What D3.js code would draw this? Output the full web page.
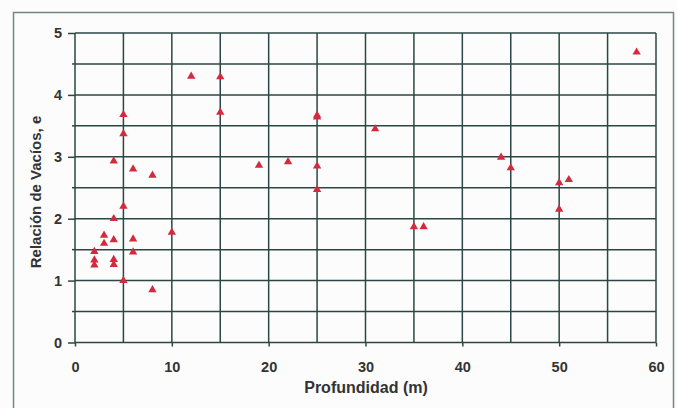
<!DOCTYPE html>
<html>
<head>
<meta charset="utf-8">
<script src="https://cdn.jsdelivr.net/npm/d3@7"></script>
<style>
  body { margin: 0; background: #fbfcfb; }
  svg { display: block; font-family: "Liberation Sans", Arial, sans-serif; }
</style>
</head>
<body>
<svg width="677" height="408"></svg>
<script>
// Profundidad (m)
const depth = [2, 2, 2, 3, 3, 4, 4, 4, 4, 5, 5, 6, 6, 8, 10, 5, 5, 4, 6, 8,
  12, 15, 15, 25, 25, 19, 22, 25, 25, 31, 44, 45, 35, 36, 58, 50, 51, 50];
// Relación de vacíos, e
const voids = [1.47, 1.33, 1.25, 1.73, 1.60, 2.0, 1.66, 1.34, 1.26, 2.2, 1.0, 1.67, 1.46, 0.85, 1.78, 3.68, 3.37, 2.93, 2.8, 2.7,
  4.3, 4.29, 3.72, 3.67, 3.64, 2.86, 2.92, 2.85, 2.47, 3.45, 2.99, 2.82, 1.87, 1.87, 4.69, 2.58, 2.63, 2.15];
const xTicks = [0, 10, 20, 30, 40, 50, 60];
const yTicks = [0, 1, 2, 3, 4, 5];

const svg = d3.select("svg");
const gridColor = "#2c4743";
const textColor = "#333";

// outer frame
svg.append("rect")
  .attr("x", 13.5).attr("y", 12.5)
  .attr("width", 660).attr("height", 420)
  .attr("fill", "none")
  .attr("stroke", "#6f8883")
  .attr("stroke-width", 1.5);

const x = d3.scaleLinear().domain([0, 60]).range([75, 656]);
const y = d3.scaleLinear().domain([0, 5]).range([342.5, 33]);

const grid = svg.append("g")
  .attr("stroke", gridColor)
  .attr("stroke-width", 1.5);

grid.selectAll(".vx")
  .data(d3.range(0, 61, 5))
  .enter().append("line")
  .attr("x1", d => x(d)).attr("x2", d => x(d))
  .attr("y1", y(0)).attr("y2", y(5));

grid.selectAll(".hy")
  .data(d3.range(0, 5.01, 0.5))
  .enter().append("line")
  .attr("y1", d => y(d)).attr("y2", d => y(d))
  .attr("x1", x(0)).attr("x2", x(60));

// y axis ticks
const yAxis = d3.axisLeft(y).tickValues(yTicks).tickSize(7).tickPadding(6).tickFormat(d3.format("d"));
const ya = svg.append("g").attr("transform", `translate(${x(0)},0)`).call(yAxis);
ya.select(".domain").remove();
ya.selectAll(".tick line").attr("stroke", gridColor).attr("stroke-width", 1.5);
ya.selectAll("text").attr("fill", textColor).style("font-size", "14.5px").style("font-weight", "bold");

svg.append("g").selectAll("line")
  .data(d3.range(0.5, 5, 1))
  .enter().append("line")
  .attr("x1", x(0) - 3).attr("x2", x(0))
  .attr("y1", d => y(d)).attr("y2", d => y(d))
  .attr("stroke", gridColor).attr("stroke-width", 1.5);

// x axis ticks
const xAxis = d3.axisBottom(x).tickValues(xTicks).tickSize(4).tickPadding(15).tickFormat(d3.format("d"));
const xa = svg.append("g").attr("transform", `translate(0,${y(0)})`).call(xAxis);
xa.select(".domain").remove();
xa.selectAll(".tick line").attr("stroke", gridColor).attr("stroke-width", 1.5);
xa.selectAll("text").attr("fill", textColor).style("font-size", "14.5px").style("font-weight", "bold");

// titles
svg.append("text")
  .attr("x", 366).attr("y", 393)
  .attr("text-anchor", "middle")
  .attr("fill", textColor)
  .style("font-size", "16px").style("font-weight", "bold")
  .text("Profundidad (m)");

svg.append("text")
  .attr("transform", "translate(41,192) rotate(-90)")
  .attr("text-anchor", "middle")
  .attr("fill", textColor)
  .style("font-size", "15px").style("font-weight", "bold")
  .text("Relación de Vacíos, e");

// points
const tri = d3.symbol().type(d3.symbolTriangle).size(30);
svg.append("g").selectAll("path")
  .data(depth.map((d, i) => [d, voids[i]]))
  .enter().append("path")
  .attr("d", tri)
  .attr("transform", d => `translate(${x(d[0])},${y(d[1])})`)
  .attr("fill", "#d42a3e");
</script>
</body>
</html>
